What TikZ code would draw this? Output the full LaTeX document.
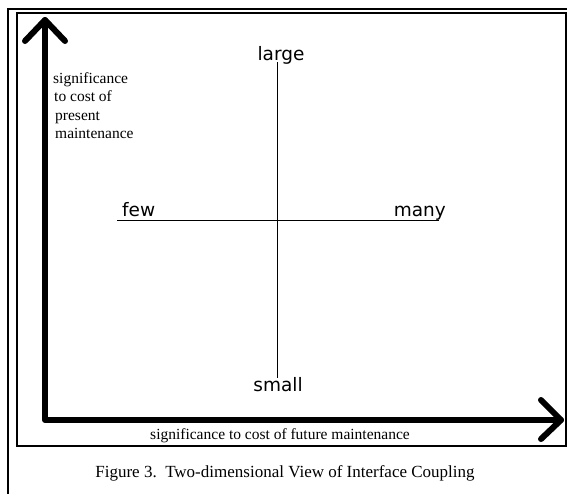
\documentclass[tikz,border=0pt]{standalone}
\usepackage{fontspec}
\setmainfont{Liberation Serif}
\newfontfamily\labelsans{DejaVu Sans}
\usetikzlibrary{calc}
\begin{document}
\begin{tikzpicture}[x=1pt,y=-1pt,
  frame/.style={draw=black,line width=1.8pt},
  axis/.style={draw=black,line width=6pt,line cap=round,line join=round},
  scaleline/.style={draw=black,line width=1.5pt},
  endlabel/.style={font=\labelsans\fontsize{18.5}{22}\selectfont,inner sep=0pt},
  axislabel/.style={font=\fontsize{15.5}{18.5}\selectfont,inner sep=0pt},
  caption/.style={font=\fontsize{17}{20}\selectfont,inner sep=0pt}]
  \useasboundingbox (0,0) rectangle (567,493);

  % double frame: outer one runs past the page edge
  \draw[frame] (8,520) -- (8,9) -- (600,9);
  \draw[frame] (17,13) rectangle (566,446);

  % the two thick axes with open barbs
  \coordinate (ytip) at (45,20);
  \coordinate (origin) at (45,420);
  \coordinate (xtip) at (561,420);
  \draw[axis] (ytip) -- (origin) -- (xtip);
  \draw[axis] ($(ytip)+(-20,21)$) -- (ytip) -- ($(ytip)+(20,21)$);
  \draw[axis] ($(xtip)+(-20,-20)$) -- (xtip) -- ($(xtip)+(-20,19)$);

  % axis titles
  \node[axislabel,anchor=north west,align=left] (ylabel) at (53,72)
    {significance\\\hspace{1pt}to cost of\\\hspace{2pt}present\\\hspace{2pt}maintenance};
  \node[axislabel,anchor=base] (xlabel) at (280,439)
    {significance to cost of future maintenance};

  % crossing scales
  \node[endlabel,anchor=base] (large) at (281,60) {large};
  \node[endlabel,anchor=base] (small) at (278,391) {small};
  \node[endlabel,anchor=base west] (few) at (122,216) {few};
  \node[endlabel,anchor=base east] (many) at (446,216) {many};
  \coordinate (vtop) at (277.5,62);
  \coordinate (vbot) at (277.5,378);
  \coordinate (hleft) at (117,220.5);
  \coordinate (hright) at (439,220.5);
  \draw[scaleline] (vtop) -- (vbot);
  \draw[scaleline] (hleft) -- (hright);

  % figure caption
  \node[caption,anchor=base] (cap) at (285,477)
    {Figure 3.\ \ Two-dimensional View of Interface Coupling};
\end{tikzpicture}
\end{document}
